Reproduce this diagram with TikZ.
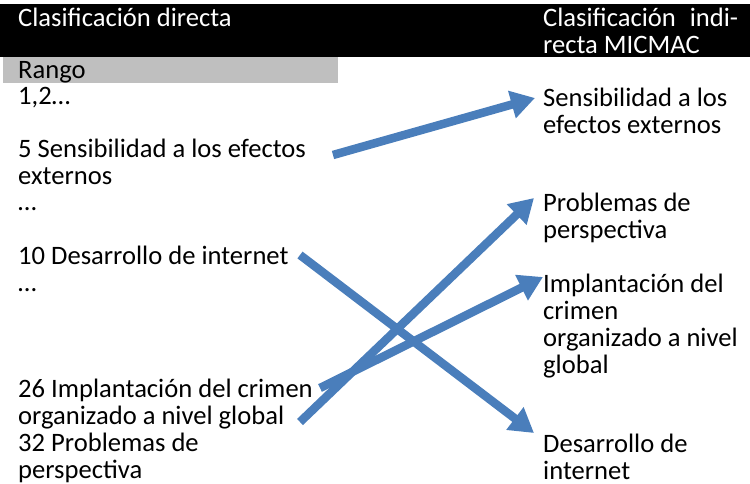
\documentclass[tikz,border=0pt]{standalone}
\usepackage{fontspec}
\setmainfont{Carlito}
\usetikzlibrary{arrows.meta}
\definecolor{arrblue}{RGB}{74,126,187}
\definecolor{rangogray}{RGB}{191,191,191}
\tikzset{
  txt/.style={anchor=base west, inner sep=0pt, font=\fontsize{26.6}{26.7}\selectfont},
  hdr/.style={txt, text=white},
  arr/.style={draw=arrblue, line width=8.5pt, -{Triangle[length=24pt,width=27pt]}}
}
\begin{document}
\begin{tikzpicture}[x=1pt,y=1pt]
\useasboundingbox (0,0) rectangle (750,484);
% header bar
\fill[black] (0,427) rectangle (750,480);
\fill[rangogray] (3,401) rectangle (338,427);
\node[hdr] (hl) at (18,457) {Clasificación directa};
\node[hdr] (hr) at (543,457) {\parbox[t]{195pt}{Clasificación\hfill indi-\\recta MICMAC}};
% left column
\node[txt] (rango) at (18,405) {Rango};
\node[txt] (r12) at (18,379) {1,2…};
\node[txt] (l5) at (18,326) {\parbox[t]{320pt}{5 Sensibilidad a los efectos\\externos}};
\node[txt] (d1) at (18,273) {…};
\node[txt] (l10) at (18,219) {10 Desarrollo de internet};
\node[txt] (d2) at (18,192) {…};
\node[txt] (l26) at (18,86) {\parbox[t]{320pt}{26 Implantación del crimen\\organizado a nivel global}};
\node[txt] (l32) at (18,32) {\parbox[t]{320pt}{32 Problemas de\\perspectiva}};
% right column
\node[txt] (r5) at (543,377) {\parbox[t]{207pt}{Sensibilidad a los\\efectos externos}};
\node[txt] (r32) at (543,272) {\parbox[t]{207pt}{Problemas de\\perspectiva}};
\node[txt] (r26) at (543,191) {\parbox[t]{207pt}{Implantación del\\crimen\\organizado a nivel\\global}};
\node[txt] (r10) at (543,31) {\parbox[t]{207pt}{Desarrollo de\\internet}};
% arrow end points
\coordinate (s5) at (333,329);
\coordinate (t5) at (535,386);
\coordinate (s32) at (300,62);
\coordinate (t32) at (534,286);
\coordinate (s26) at (320,96);
\coordinate (t26) at (543,207);
\coordinate (s10) at (300,229);
\coordinate (t10) at (534,51);
\draw[arr] (s10) -- (t10);
\draw[arr] (s26) -- (t26);
\draw[arr] (s32) -- (t32);
\draw[arr] (s5) -- (t5);
\end{tikzpicture}
\end{document}
